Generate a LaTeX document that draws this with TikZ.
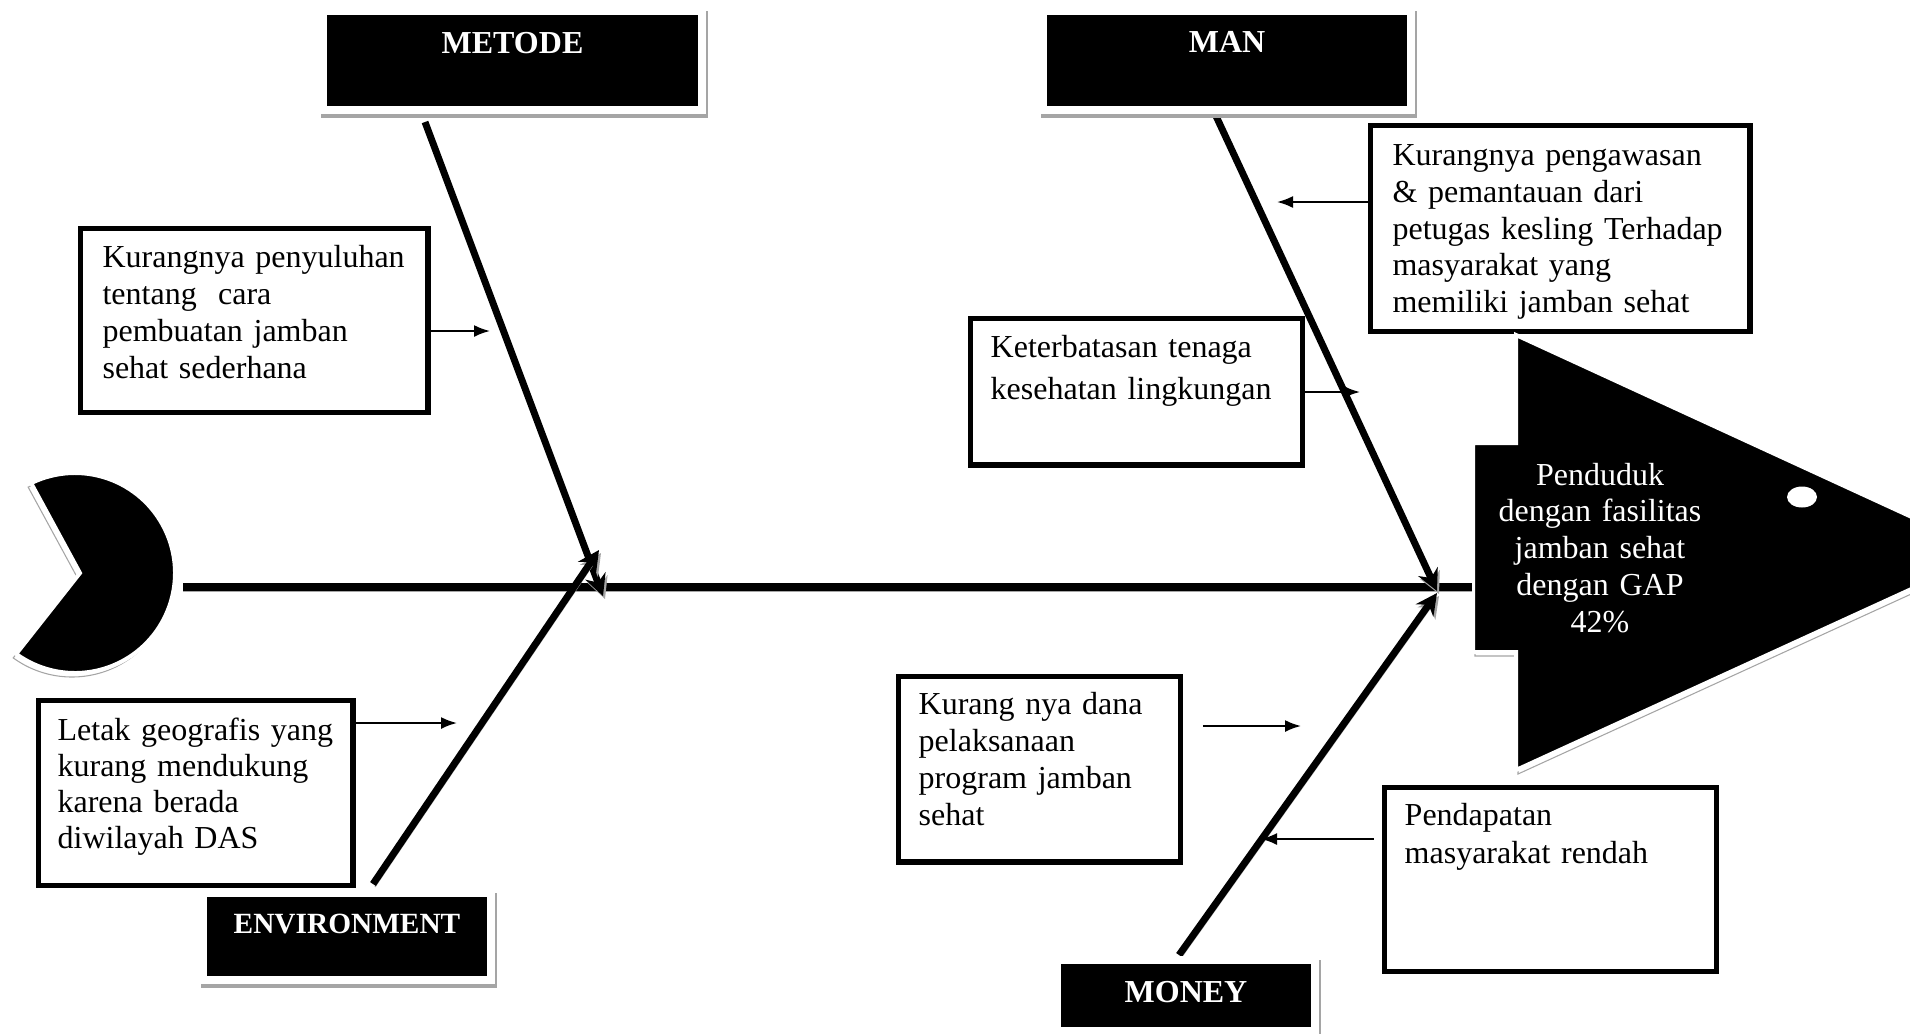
\documentclass[tikz,border=0pt]{standalone}
\usepackage{fontspec}
\setmainfont{Liberation Serif}
\usetikzlibrary{arrows.meta}

\definecolor{shadowgray}{RGB}{165,165,165}

\begin{document}
\begin{tikzpicture}[
    x = 0.375pt, y = -0.375pt, % one unit = one pixel of the sketch
    cause/.style = {draw = black, line width = 2pt, fill = white, anchor = north west,
        inner ysep = 0pt, align = left, font = \fontsize{12}{13.9}\selectfont},
    lbl/.style = {fill = black, text = white, draw = white, line width = 3pt,
        inner sep = 0pt, anchor = north, font = \fontsize{12}{14}\selectfont\bfseries,
        preaction = {draw = shadowgray, transform canvas = {shift = {(2,4)}}}},
    bone/.style = {line width = 2.6pt, -{Stealth[length = 8pt, width = 8pt]},
        preaction = {draw = shadowgray, transform canvas = {shift = {(2,3)}}}},
    spine/.style = {line width = 3pt,
        preaction = {draw = shadowgray, transform canvas = {shift = {(0,4)}}}},
    twig/.style = {line width = 0.75pt, -{Latex[length = 6pt, width = 4.5pt]}},
    fishpart/.style = {fill = black, draw = white, line width = 1.5pt,
        preaction = {draw = shadowgray, transform canvas = {shift = {#1}}}},
    fishpart/.default = {(2,4)}
    ]

    \useasboundingbox (0,0) rectangle (1910,1033);
    \clip (0,0) rectangle (1910,1033);

    % causes
    \node[cause, text width = 113.6pt, inner xsep = 8.4pt, text height = 14.8pt, text depth = 54.2pt]
        (penyuluhan) at (77.5,225.5) {Kurangnya penyuluhan\\ tentang \ cara\\ pembuatan jamban\\ sehat sederhana};
    \node[cause, text width = 125.6pt, inner xsep = 8.4pt, text height = 15.2pt, text depth = 62.1pt,
        font = \fontsize{12}{13.75}\selectfont]
        (pengawasan) at (1367.5,122.5) {Kurangnya pengawasan\\ \& pemantauan dari\\ petugas kesling Terhadap\\ masyarakat yang\\ memiliki jamban sehat};
    \node[cause, text width = 109.1pt, inner xsep = 7.7pt, text height = 14.8pt, text depth = 40.3pt,
        font = \fontsize{12}{15.75}\selectfont]
        (tenaga) at (967.5,315.5) {Keterbatasan tenaga\\ kesehatan lingkungan};
    \node[cause, text width = 103.5pt, inner xsep = 7.3pt, text height = 15.2pt, text depth = 54.2pt,
        font = \fontsize{12}{13.5}\selectfont]
        (geografis) at (35.5,697.5) {Letak geografis yang\\ kurang mendukung\\ karena berada\\ diwilayah DAS};
    \node[cause, text width = 90.4pt, inner xsep = 7.7pt, text height = 14.4pt, text depth = 55.3pt]
        (dana) at (895.5,673.5) {Kurang nya dana\\ pelaksanaan\\ program jamban\\ sehat};
    \node[cause, text width = 109.1pt, inner xsep = 7.7pt, text height = 14.4pt, text depth = 54.6pt,
        font = \fontsize{12}{14.25}\selectfont]
        (pendapatan) at (1381.5,784.5) {Pendapatan\\ masyarakat rendah};

    % head and tail of the fish
    \path[fishpart = {(-3,4)}] (80,573) -- ([shift = {(-116:100)}] 75,573)
        arc[start angle = -116, end angle = 126, radius = 100] -- cycle;
    \path[fishpart] (1473,443) -- (1516,443) -- (1516,335) -- (1990,553)
        -- (1516,770) -- (1516,652) -- (1473,652) -- cycle;
    \fill[white] (1802,497) ellipse [x radius = 15, y radius = 10.5];
    \node[text = white, text width = 90pt, align = center, anchor = base, inner sep = 0pt,
        font = \fontsize{12}{13.8}\selectfont]
        (akibat) at (1600,485) {Penduduk\\ dengan fasilitas\\ jamban sehat\\ dengan GAP\\ 42\%};

    % spine and bones
    \coordinate (tail) at (183,587);
    \coordinate (neck) at (1472,587);
    \coordinate (metodeA) at (425,122);
    \coordinate (metodeB) at (603,596);
    \coordinate (envA) at (373,884);
    \coordinate (envB) at (599,550);
    \coordinate (manA) at (1216,116);
    \coordinate (manB) at (1437,591);
    \coordinate (moneyA) at (1179,955);
    \coordinate (moneyB) at (1437,593);

    \draw[spine] (tail) -- (neck);
    \draw[bone] (metodeA) -- (metodeB);
    \draw[bone] (envA) -- (envB);
    \draw[bone] (manA) -- (manB);
    \draw[bone] (moneyA) -- (moneyB);

    % small arrows
    \coordinate (t1) at (490,331);
    \coordinate (t2) at (1277,202);
    \coordinate (t3) at (1360,392);
    \coordinate (t4) at (457,723);
    \coordinate (t5) at (1301,726);
    \coordinate (t6) at (1261,839);

    \draw[twig] (penyuluhan.east |- t1) -- (t1);
    \draw[twig] (pengawasan.west |- t2) -- (t2);
    \draw[twig] (tenaga.east |- t3) -- (t3);
    \draw[twig] (geografis.east |- t4) -- (t4);
    \draw[twig, shorten < = 7.5pt] (dana.east |- t5) -- (t5);
    \draw[twig, shorten < = 3pt] (pendapatan.west |- t6) -- (t6);

    % category labels
    \node[lbl, minimum width = 142.1pt, text height = 15.75pt, text depth = 21.4pt]
        (metode) at (512.5,7) {METODE};
    \node[lbl, minimum width = 138pt, text height = 15.4pt, text depth = 21.75pt]
        (man) at (1227,7) {MAN};
    \node[lbl, minimum width = 108pt, text height = 15pt, text depth = 17.6pt,
        font = \fontsize{11}{13}\selectfont\bfseries]
        (environment) at (347,889) {ENVIRONMENT};
    \node[lbl, minimum width = 96.75pt, text height = 15.75pt, text depth = 10.9pt]
        (money) at (1186,956) {MONEY};
\end{tikzpicture}
\end{document}
